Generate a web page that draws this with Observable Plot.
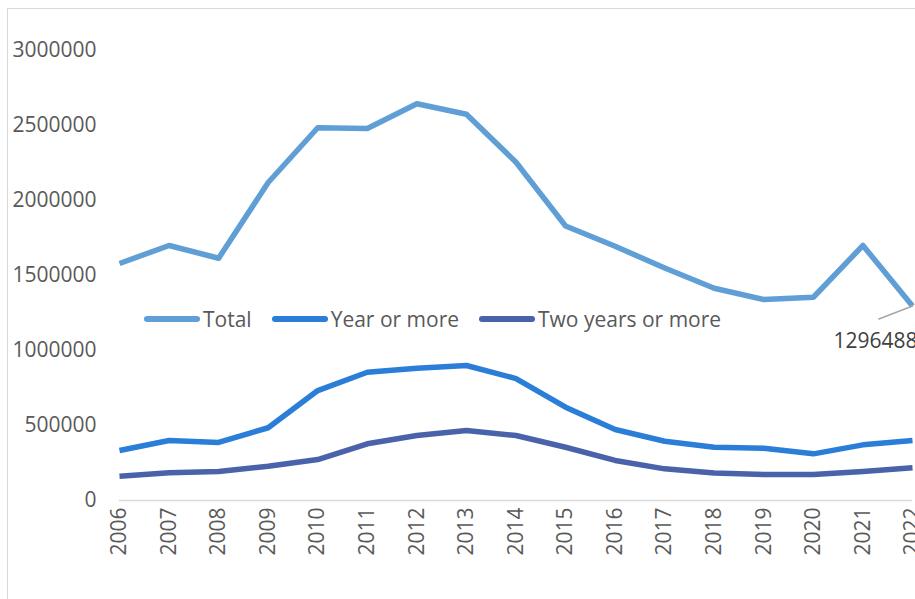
<!DOCTYPE html>
<html>
<head>
<meta charset="utf-8">
<script src="https://cdn.jsdelivr.net/npm/d3@7"></script>
<script src="https://cdn.jsdelivr.net/npm/@observablehq/plot@0.6"></script>
<style>
  html, body { margin: 0; padding: 0; background: #fff; }
  body { width: 915px; height: 599px; position: relative; overflow: hidden; font-family: "Open Sans", sans-serif; }
  #frame { position: absolute; left: 7px; top: 8px; width: 1000px; height: 700px; border: 1.5px solid #d9d9d9; box-sizing: border-box; }
  #chart { position: absolute; left: 0; top: 0; }
  #legend { position: absolute; top: 305px; left: 144px; display: flex; align-items: center; font-size: 21px; color: #595959; white-space: nowrap; }
  #legend .item { display: flex; align-items: center; }
  #legend .sw { width: 56px; height: 6px; border-radius: 3px; margin-right: 3px; }
</style>
</head>
<body>
<div id="frame"></div>
<div id="chart"></div>
<div id="legend"></div>
<script>
const years = [2006,2007,2008,2009,2010,2011,2012,2013,2014,2015,2016,2017,2018,2019,2020,2021,2022];
const total = [1580000,1700000,1615000,2120000,2485000,2480000,2645000,2575000,2255000,1830000,1695000,1550000,1415000,1340000,1355000,1700000,1296488];
const yearOrMore = [333000,400000,387000,485000,733000,855000,882000,900000,813000,622000,473000,395000,355000,348000,311000,371000,400000];
const twoYearsOrMore = [162000,185000,193000,228000,273000,378000,433000,467000,433000,355000,267000,211000,184000,173000,173000,193000,218000];
const seriesNames = ["Total", "Year or more", "Two years or more"];
const seriesColors = ["#5f9fd6", "#2a7ed8", "#4a62aa"];
const yTicks = [0,500000,1000000,1500000,2000000,2500000,3000000];

const seriesValues = [total, yearOrMore, twoYearsOrMore];
const rows = seriesNames.flatMap((name, i) => years.map((yr, j) => ({series: name, year: yr, value: seriesValues[i][j]})));
const lastTotal = [{year: years[years.length-1], value: total[total.length-1]}];

const chart = Plot.plot({
  width: 915,
  height: 599,
  marginLeft: 119,
  marginRight: 3,
  marginTop: 50,
  marginBottom: 99,
  style: {fontFamily: "'Open Sans', sans-serif", fontSize: "21px", color: "#595959", background: "transparent"},
  x: {domain: [2006, 2022], label: null, ticks: years, tickFormat: d => String(d), tickRotate: -90, tickSize: 0, tickPadding: 7},
  y: {domain: [0, 3000000], label: null, ticks: yTicks, tickFormat: d => String(d), tickSize: 0, tickPadding: 23},
  color: {domain: seriesNames, range: seriesColors},
  marks: [
    Plot.ruleY([0], {stroke: "#d9d9d9", strokeWidth: 1.5}),
    Plot.line(rows, {x: "year", y: "value", z: "series", stroke: "series", strokeWidth: 5.5, strokeLinejoin: "round", strokeLinecap: "butt"}),
    Plot.vector(lastTotal, {x: "year", y: "value", anchor: "start", length: 36, rotate: 249, stroke: "#a6a6a6", strokeWidth: 1.5,
      shape: {draw(ctx, l) { ctx.moveTo(0, 0); ctx.lineTo(0, -l); }}}),
    Plot.text(lastTotal, {x: "year", y: "value", text: d => String(d.value), textAnchor: "start", lineAnchor: "middle", dx: -79, dy: 35, fill: "#404040", fontSize: 21})
  ]
});
document.getElementById("chart").appendChild(chart);

const legend = document.getElementById("legend");
seriesNames.forEach((name, i) => {
  const item = document.createElement("div");
  item.className = "item";
  item.style.marginRight = "20px";
  const sw = document.createElement("div");
  sw.className = "sw";
  sw.style.background = seriesColors[i];
  const t = document.createElement("span");
  t.textContent = name;
  item.appendChild(sw);
  item.appendChild(t);
  legend.appendChild(item);
});
</script>
</body>
</html>
